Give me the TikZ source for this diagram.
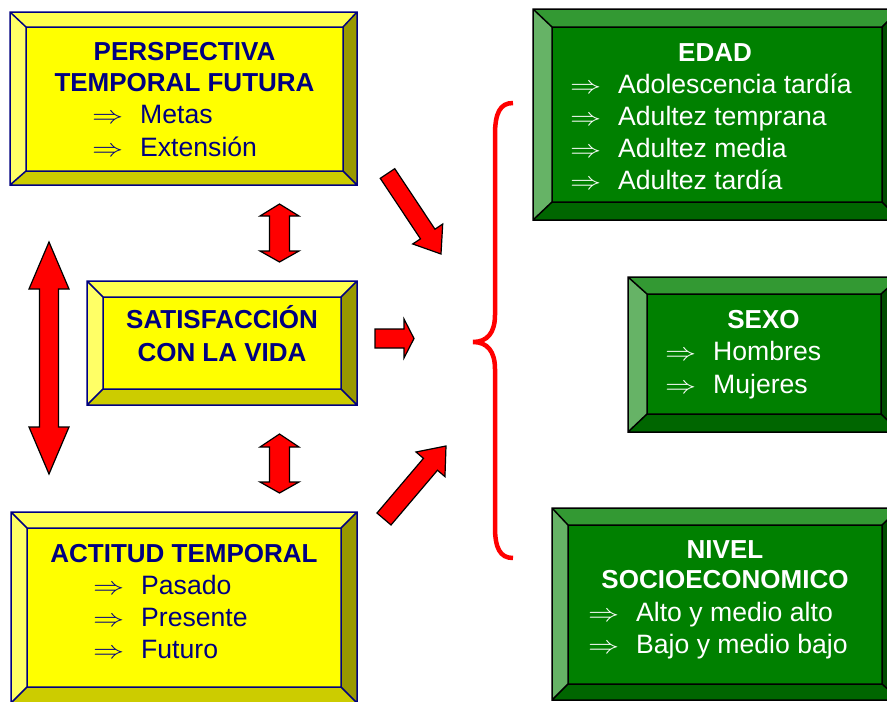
\documentclass[tikz,border=0pt]{standalone}
\usepackage{fontspec}
\usepackage{graphicx}
\setmainfont{Liberation Sans}
\usetikzlibrary{calc}
\definecolor{ylmain}{HTML}{FFFF00}
\definecolor{yltop}{HTML}{FFFF4D}
\definecolor{ylleft}{HTML}{FFFF66}
\definecolor{ylright}{HTML}{999900}
\definecolor{ylbot}{HTML}{CCCC00}
\definecolor{ylline}{HTML}{000080}
\definecolor{gnmain}{HTML}{008000}
\definecolor{gntop}{HTML}{339933}
\definecolor{gnleft}{HTML}{66B366}
\definecolor{gnright}{HTML}{004D00}
\definecolor{gnbot}{HTML}{006600}
\definecolor{gnline}{HTML}{000000}
\definecolor{arred}{HTML}{FF0000}
\definecolor{navytext}{HTML}{000080}

\newcommand{\bevbox}[5]{%
 \path #2 coordinate (oA) #3 coordinate (oC) #4 coordinate (iA) #5 coordinate (iC);
 \fill[#1main] (iA) rectangle (iC);
 \fill[#1top] (oA) -- (oC|-oA) -- (iC|-iA) -- (iA) -- cycle;
 \fill[#1left] (oA) -- (iA) -- (iA|-iC) -- (oA|-oC) -- cycle;
 \fill[#1right] (oC|-oA) -- (oC) -- (iC) -- (iC|-iA) -- cycle;
 \fill[#1bot] (oA|-oC) -- (iA|-iC) -- (iC) -- (oC) -- cycle;
 \draw[#1line, line width=1.5pt, line join=miter] (oA) rectangle (oC) (iA) rectangle (iC)
   (oA) -- (iA) (oC|-oA) -- (iC|-iA) (oC) -- (iC) (oA|-oC) -- (iA|-iC);
}
\newcommand{\diagarrow}[5]{%
 \path #1 coordinate (aT) #2 coordinate (aP);
 \coordinate (aB) at ($(aP)!#5!(aT)$);
 \draw[redarrow] ($(aT)!#3!90:(aP)$) -- ($(aB)!#3!-90:(aT)$) -- ($(aB)!#4!-90:(aT)$) -- (aP)
   -- ($(aB)!#4!90:(aT)$) -- ($(aB)!#3!90:(aT)$) -- ($(aT)!#3!-90:(aP)$) -- cycle;
}
\newcommand{\arr}{\makebox[48pt][l]{\scalebox{1.25}[1]{$\Rightarrow$}}}

\begin{document}
\begin{tikzpicture}[x=1pt, y=-1pt,
  redarrow/.style={fill=arred, draw=black, line width=1.2pt, line join=miter},
  ttl/.style={font=\bfseries\fontsize{26}{30}\selectfont, anchor=base, inner sep=0pt},
  itm/.style={font=\fontsize{26.6}{32}\selectfont, anchor=base west, inner sep=0pt},
  yt/.style={text=navytext},
  gt/.style={text=white}]
\useasboundingbox (0,0) rectangle (887,702);
\clip (0,0) rectangle (887,702);

% yellow boxes
\bevbox{yl}{(10,12)}{(357,185)}{(26,27)}{(343,171)}
\bevbox{yl}{(87,281)}{(357,405)}{(103,297)}{(341,389)}
\bevbox{yl}{(11,512)}{(357,703)}{(27,528)}{(341,687)}
% green boxes
\bevbox{gn}{(533,9)}{(900,220)}{(552,27)}{(882,202)}
\bevbox{gn}{(628,277)}{(900,432)}{(647,294)}{(881,414)}
\bevbox{gn}{(552,508)}{(900,700)}{(568,525)}{(882,684)}

% texts yellow
\node[ttl, yt] (ptf1) at (184.5,60) {PERSPECTIVA};
\node[ttl, yt] (ptf2) at (184.5,91) {TEMPORAL FUTURA};
\node[itm, yt] (ptf3) at (92,123) {\arr Metas};
\node[itm, yt] (ptf4) at (92,156) {\arr Extensión};
\node[ttl, yt] (sat1) at (222,328) {SATISFACCIÓN};
\node[ttl, yt] (sat2) at (222,361) {CON LA VIDA};
\node[ttl, yt] (act1) at (184,562) {ACTITUD TEMPORAL};
\node[itm, yt] (act2) at (93,594) {\arr Pasado};
\node[itm, yt] (act3) at (93,626) {\arr Presente};
\node[itm, yt] (act4) at (93,658) {\arr Futuro};
% texts green
\node[ttl, gt] (edad0) at (715,61) {EDAD};
\node[itm, gt] (edad1) at (570,93) {\arr Adolescencia tardía};
\node[itm, gt] (edad2) at (570,125) {\arr Adultez temprana};
\node[itm, gt] (edad3) at (570,157) {\arr Adultez media};
\node[itm, gt] (edad4) at (570,189) {\arr Adultez tardía};
\node[ttl, gt] (sexo0) at (763.5,328) {SEXO};
\node[itm, gt] (sexo1) at (665,360) {\arr Hombres};
\node[itm, gt] (sexo2) at (665,393) {\arr Mujeres};
\node[ttl, gt] (niv0) at (725,558) {NIVEL};
\node[ttl, gt] (niv1) at (725,588) {SOCIOECONOMICO};
\node[itm, gt] (niv2) at (588,621) {\arr Alto y medio alto};
\node[itm, gt] (niv3) at (588,653) {\arr Bajo y medio bajo};

% red block arrows
% big left double arrow
\draw[redarrow] (49,242) -- (69,289) -- (58.5,289) -- (58.5,427) -- (69,427) -- (49,474)
  -- (29,427) -- (39.5,427) -- (39.5,289) -- (29,289) -- cycle;
% small double arrows
\draw[redarrow] (279.5,204) -- (299,216) -- (289.5,216) -- (289.5,251) -- (299,251) -- (279.5,262)
  -- (260,251) -- (269.5,251) -- (269.5,216) -- (260,216) -- cycle;
\draw[redarrow] (279.5,434) -- (299,447) -- (289.5,447) -- (289.5,482) -- (299,482) -- (279.5,493)
  -- (260,482) -- (269.5,482) -- (269.5,447) -- (260,447) -- cycle;
% middle right arrow
\draw[redarrow] (375,329) -- (404,329) -- (404,319) -- (414,338.5) -- (404,358) -- (404,348)
  -- (375,348) -- cycle;
% diagonal arrows
\diagarrow{(387.5,173.5)}{(441,254)}{8.7pt}{18pt}{24pt}
\diagarrow{(384,519)}{(446,446)}{9.2pt}{19pt}{24pt}

% brace
\draw[arred, line width=4.5pt] (513,103) .. controls (500,103) and (495,113) .. (495,135)
  -- (495,315) .. controls (495,333) and (487,342) .. (473,342)
  .. controls (487,342) and (495,351) .. (495,369)
  -- (495,527) .. controls (495,548) and (500,558) .. (513,558);
\end{tikzpicture}
\end{document}
